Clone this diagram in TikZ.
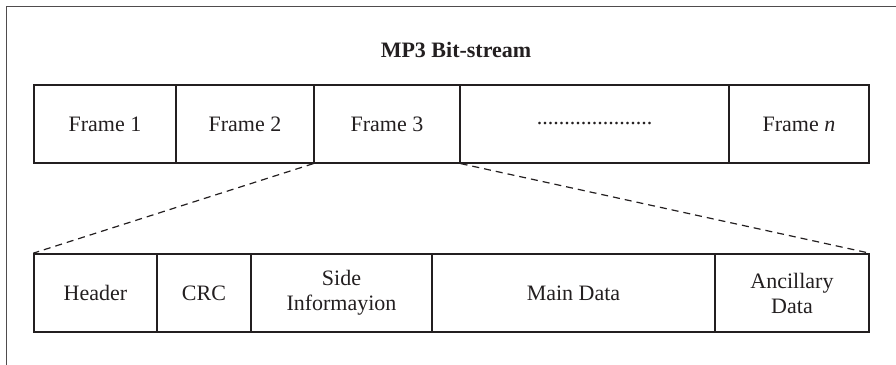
\documentclass[tikz,border=0pt]{standalone}
\usepackage{fontspec}
\setmainfont{Liberation Serif}
\definecolor{ink}{HTML}{231F20}
\tikzset{
  frame/.style={draw=ink, line width=1.2pt, minimum height=78pt, inner sep=0pt, text=ink,
    font=\fontsize{22}{25}\selectfont, anchor=center},
  field/.style={frame, line width=1.6pt, align=center},
  zoomline/.style={draw=ink, line width=1.2pt, dash pattern=on 7pt off 5pt},
  border/.style={draw=ink!80, line width=1pt}
}
\begin{document}
\begin{tikzpicture}[x=1pt, y=1pt]
  \useasboundingbox (0,0) rectangle (896,364);
  % surrounding panel (left and top edges)
  \draw[border] (6,-5) -- (6,357) -- (901,357);

  % title
  \node[text=ink, font=\fontsize{22}{25}\selectfont\bfseries] (title) at (456,314) {MP3 Bit-stream};

  % bit-stream row
  \node[frame, minimum width=142pt] (f1) at (105,240) {Frame 1};
  \node[frame, minimum width=138pt] (f2) at (245,240) {Frame 2};
  \node[frame, minimum width=146pt] (f3) at (387,240) {Frame 3};
  \node[frame, minimum width=269pt] (fd) at (594.5,240) {.....................};
  \node[frame, minimum width=140pt] (fn) at (799,240) {Frame \textit{n}};

  % frame structure row
  \node[field, minimum width=123pt] (hdr) at (95.5,71) {Header};
  \node[field, minimum width=94pt]  (crc) at (204,71) {CRC};
  \node[field, minimum width=181pt] (side) at (341.5,71) {Side\\Informayion};
  \node[field, minimum width=283pt] (main) at (573.5,71) {Main Data};
  \node[field, minimum width=154pt] (anc) at (792,71) {Ancillary\\Data};

  % expansion of Frame 3
  \draw[zoomline] (f3.south west) -- (hdr.north west);
  \draw[zoomline] (f3.south east) -- (anc.north east);
\end{tikzpicture}
\end{document}
